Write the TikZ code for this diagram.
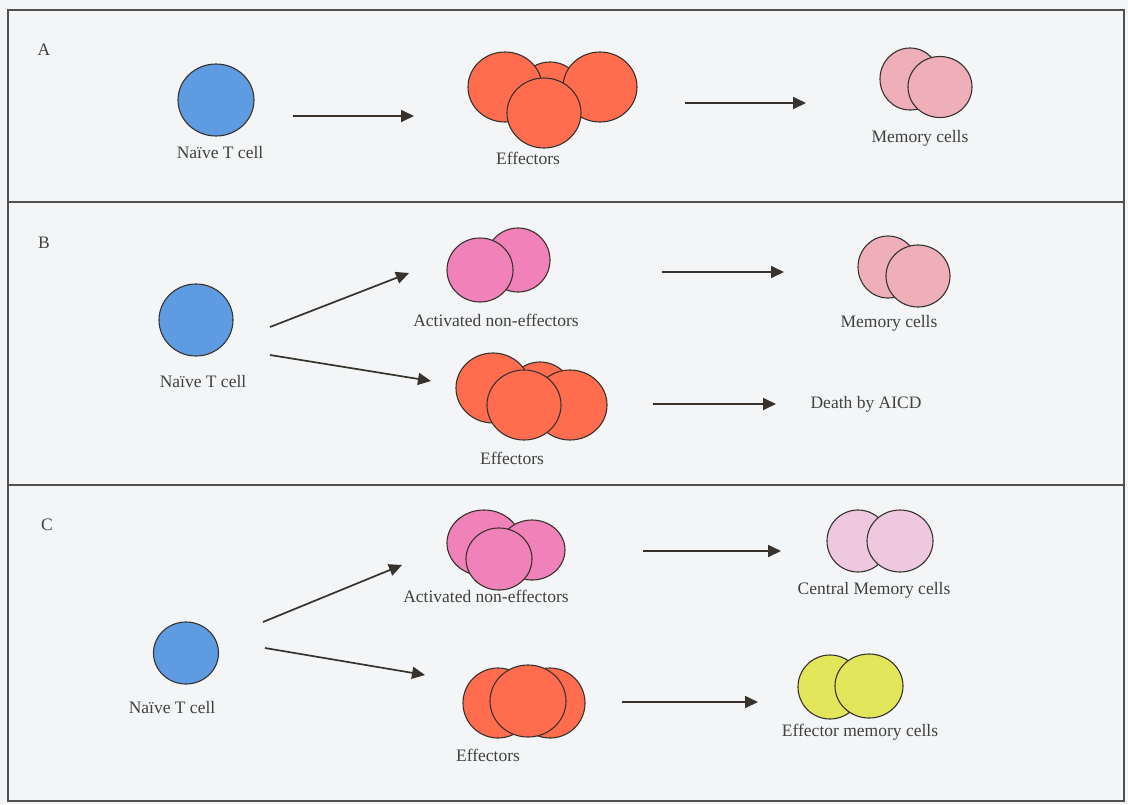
\documentclass[tikz,border=0pt]{standalone}
\usepackage{fontspec}
\setmainfont{Liberation Serif}
\usetikzlibrary{shapes.geometric,arrows.meta}
\definecolor{bgc}{RGB}{243,245,246}
\definecolor{framec}{RGB}{80,80,80}
\definecolor{edgec}{RGB}{55,50,45}
\definecolor{txtc}{RGB}{65,65,65}
\definecolor{naivec}{RGB}{95,155,225}
\definecolor{effc}{RGB}{255,108,78}
\definecolor{actc}{RGB}{240,130,185}
\definecolor{memc}{RGB}{238,175,185}
\definecolor{cmemc}{RGB}{238,200,222}
\definecolor{ememc}{RGB}{226,230,90}
\tikzset{
  cell/.style={ellipse, draw=edgec, line width=1.1pt, inner sep=0pt},
  lbl/.style={font=\fontsize{17.5}{20}\selectfont, text=txtc, inner sep=0pt},
  arr/.style={draw=edgec, line width=1.7pt, -{Triangle[length=13pt,width=12pt]}},
  framel/.style={draw=framec, line width=1.4pt}
}
\newcommand{\cellat}[6]{\node[cell, fill=#4, minimum width=#5pt, minimum height=#6pt] (#1) at (#2,#3) {};}
\begin{document}
\begin{tikzpicture}[x=1pt,y=-1pt]
\useasboundingbox (0,0) rectangle (1128,804);
\fill[bgc] (0,0) rectangle (1128,804);
% frame
\draw[framel] (8,10) rectangle (1124,801);
\draw[framel] (8,202) -- (1124,202);
\draw[framel] (8,485) -- (1124,485);

% ---------------- Panel A
\node[lbl] (la) at (44,50) {A};
\cellat{naA}{216}{100}{naivec}{76}{72}
\node[lbl] (naAl) at (220,153) {Naïve T cell};
\coordinate (a1s) at (293,116); \coordinate (a1e) at (414,116);
\draw[arr] (a1s) -- (a1e);
\cellat{efA2}{550}{95}{effc}{66}{66}
\cellat{efA1}{505}{87}{effc}{74}{70}
\cellat{efA3}{600}{87}{effc}{74}{70}
\cellat{efA4}{544}{113}{effc}{74}{70}
\node[lbl] (efAl) at (528,158) {Effectors};
\coordinate (a2s) at (685,103); \coordinate (a2e) at (806,103);
\draw[arr] (a2s) -- (a2e);
\cellat{meA1}{910}{79}{memc}{60}{62}
\cellat{meA2}{940}{87}{memc}{64}{61}
\node[lbl] (meAl) at (920,138) {Memory cells};

% ---------------- Panel B
\node[lbl] (lb) at (44,243) {B};
\cellat{naB}{196}{320}{naivec}{74}{72}
\node[lbl] (naBl) at (203,382) {Naïve T cell};
\coordinate (b1s) at (270,327); \coordinate (b1e) at (409,273);
\draw[arr] (b1s) -- (b1e);
\coordinate (b2s) at (270,355); \coordinate (b2e) at (431,381);
\draw[arr] (b2s) -- (b2e);
\cellat{acB1}{518}{260}{actc}{64}{64}
\cellat{acB2}{480}{270}{actc}{66}{64}
\node[lbl] (acBl) at (496,320) {Activated non-effectors};
\coordinate (b3s) at (662,272); \coordinate (b3e) at (784,272);
\draw[arr] (b3s) -- (b3e);
\cellat{meB1}{888}{267}{memc}{60}{62}
\cellat{meB2}{918}{276}{memc}{64}{62}
\node[lbl] (meBl) at (889,323) {Memory cells};
\cellat{efB2}{540}{395}{effc}{66}{66}
\cellat{efB1}{493}{388}{effc}{74}{70}
\cellat{efB3}{570}{405}{effc}{74}{70}
\cellat{efB4}{524}{405}{effc}{74}{70}
\node[lbl] (efBl) at (512,458) {Effectors};
\coordinate (b4s) at (653,404); \coordinate (b4e) at (776,404);
\draw[arr] (b4s) -- (b4e);
\node[lbl] (death) at (866,404) {Death by AICD};

% ---------------- Panel C
\node[lbl] (lc) at (47,525) {C};
\cellat{naC}{186}{653}{naivec}{65}{62}
\node[lbl] (naCl) at (172,708) {Naïve T cell};
\coordinate (c1s) at (263,622); \coordinate (c1e) at (402,565);
\draw[arr] (c1s) -- (c1e);
\coordinate (c2s) at (265,648); \coordinate (c2e) at (425,675);
\draw[arr] (c2s) -- (c2e);
\cellat{acC1}{484}{543}{actc}{74}{66}
\cellat{acC2}{532}{550}{actc}{66}{60}
\cellat{acC3}{499}{559}{actc}{66}{62}
\node[lbl] (acCl) at (486,596) {Activated non-effectors};
\coordinate (c3s) at (643,551); \coordinate (c3e) at (781,551);
\draw[arr] (c3s) -- (c3e);
\cellat{cmC1}{858}{541}{cmemc}{62}{62}
\cellat{cmC2}{900}{541}{cmemc}{66}{62}
\node[lbl] (cmCl) at (874,590) {Central Memory cells};
\cellat{efC1}{498}{703}{effc}{70}{70}
\cellat{efC2}{550}{703}{effc}{70}{70}
\cellat{efC3}{528}{701}{effc}{76}{72}
\node[lbl] (efCl) at (488,755) {Effectors};
\coordinate (c4s) at (622,702); \coordinate (c4e) at (758,702);
\draw[arr] (c4s) -- (c4e);
\cellat{emC1}{830}{687}{ememc}{64}{64}
\cellat{emC2}{869}{686}{ememc}{68}{64}
\node[lbl] (emCl) at (860,732) {Effector memory cells};
\end{tikzpicture}
\end{document}
